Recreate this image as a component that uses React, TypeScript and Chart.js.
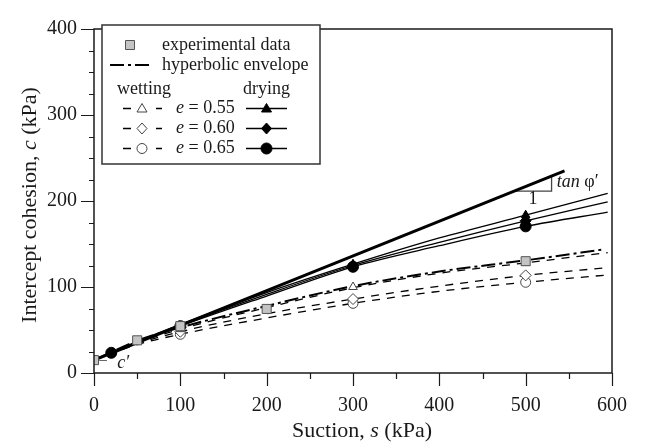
import { useEffect, useRef } from "react";
import { Chart, registerables } from "chart.js";

Chart.register(...registerables);

// ---- data ----
const curveS = [0, 50, 100, 200, 300, 400, 500, 595];
const dry055 = [15, 36.5, 56.5, 93.5, 126.5, 157, 183.5, 209];
const dry060 = [15, 36, 55.5, 91.5, 125, 152, 177, 199];
const dry065 = [15, 35.5, 54.5, 89.5, 123.5, 148, 170.5, 187];
const wet055 = [15, 35, 51, 76, 99, 116, 128, 140];
const wet060 = [15, 34, 48, 69, 86, 101, 113.5, 122.5];
const wet065 = [15, 33, 45, 64, 81, 95, 105.5, 114];

const envS = [0, 50, 100, 200, 300, 400, 500, 592];
const envC = [15, 37.5, 53, 78, 101, 118, 131, 144];

const tanS = [0, 545];
const tanC = [15, 235];
const slopeS = [486.7, 530, 530];
const slopeC = [211.5, 211.5, 229];

const expS = [0, 50, 100, 200, 500];
const expC = [15, 38, 54.5, 74.5, 130];

const dryMarkS055 = [300, 500];
const dryMark055 = [126.5, 183.5];
const dryMarkS060 = [300, 500];
const dryMark060 = [125, 177];
const dryMarkS065 = [20, 100, 300, 500];
const dryMark065 = [23.5, 54.5, 123.5, 170.5];

const wetMarkS = [100, 300, 500];
const wetMark055 = [51, 100, 128];
const wetMark060 = [48, 86, 113.5];
const wetMark065 = [45, 81, 105.5];

const xTickValues = [0, 100, 200, 300, 400, 500, 600];
const yTickValues = [0, 100, 200, 300, 400];

const FONT = '"Liberation Serif", "Times New Roman", serif';
const INK = "#1a1a1a";

const pts = (xs: number[], ys: number[]) => xs.map((x, i) => ({ x, y: ys[i] }));

function drawRich(
  ctx: CanvasRenderingContext2D,
  parts: [string, boolean][],
  x: number,
  y: number,
  size: number,
  align: "left" | "center",
  rotate = 0
) {
  ctx.save();
  ctx.translate(x, y);
  if (rotate) ctx.rotate(rotate);
  const fonts = parts.map(([, it]) => `${it ? "italic " : ""}${size}px ${FONT}`);
  let total = 0;
  const widths = parts.map(([t], i) => {
    ctx.font = fonts[i];
    const w = ctx.measureText(t).width;
    total += w;
    return w;
  });
  let cx = align === "center" ? -total / 2 : 0;
  ctx.textBaseline = "middle";
  ctx.textAlign = "left";
  ctx.fillStyle = INK;
  parts.forEach(([t], i) => {
    ctx.font = fonts[i];
    ctx.fillText(t, cx, 0);
    cx += widths[i];
  });
  ctx.restore();
}

type Mk = "square" | "triangle" | "diamond" | "circle";
function marker(ctx: CanvasRenderingContext2D, kind: Mk, x: number, y: number, filled: boolean) {
  ctx.save();
  ctx.beginPath();
  if (kind === "square") {
    ctx.rect(x - 4.5, y - 4.5, 9, 9);
    ctx.fillStyle = "#c4c4c4";
    ctx.fill();
    ctx.strokeStyle = "#555";
    ctx.lineWidth = 1;
    ctx.stroke();
    ctx.restore();
    return;
  }
  if (kind === "triangle") {
    ctx.moveTo(x, y - 5);
    ctx.lineTo(x + 5, y + 3.5);
    ctx.lineTo(x - 5, y + 3.5);
    ctx.closePath();
  } else if (kind === "diamond") {
    ctx.moveTo(x, y - 5.5);
    ctx.lineTo(x + 5, y);
    ctx.lineTo(x, y + 5.5);
    ctx.lineTo(x - 5, y);
    ctx.closePath();
  } else {
    ctx.arc(x, y, filled ? 5.5 : 5, 0, Math.PI * 2);
  }
  ctx.fillStyle = filled ? "#000" : "#fff";
  ctx.fill();
  ctx.strokeStyle = filled ? "#000" : "#444";
  ctx.lineWidth = 1;
  ctx.stroke();
  ctx.restore();
}

const decorPlugin = {
  id: "decor",
  afterDraw(chart: any) {
    const ctx: CanvasRenderingContext2D = chart.ctx;
    const { left, right, top, bottom } = chart.chartArea;
    const xs = chart.scales.x;
    const ys = chart.scales.y;
    ctx.save();
    // frame
    ctx.strokeStyle = INK;
    ctx.lineWidth = 1.5;
    ctx.strokeRect(left, top, right - left, bottom - top);
    // ticks
    ctx.lineWidth = 1.2;
    ctx.beginPath();
    for (let v = 0; v <= 600; v += 50) {
      const px = Math.round(xs.getPixelForValue(v)) + 0.5;
      const len = v % 100 === 0 ? 13 : 6;
      ctx.moveTo(px, bottom);
      ctx.lineTo(px, bottom + len);
    }
    for (let v = 0; v <= 400; v += 25) {
      const py = Math.round(ys.getPixelForValue(v)) + 0.5;
      const len = v % 100 === 0 ? 13 : 5;
      ctx.moveTo(left, py);
      ctx.lineTo(left - len, py);
    }
    ctx.stroke();

    // axis titles
    drawRich(ctx, [["Intercept cohesion, ", false], ["c", true], [" (kPa)", false]], 30, 205, 22, "center", -Math.PI / 2);
    drawRich(ctx, [["Suction, ", false], ["s", true], [" (kPa)", false]], 362, 431, 22, "center");

    // c' label with leader
    const cx0 = xs.getPixelForValue(6);
    const cx1 = xs.getPixelForValue(15);
    const cy = ys.getPixelForValue(14.5);
    ctx.strokeStyle = "#666";
    ctx.lineWidth = 1;
    ctx.beginPath();
    ctx.moveTo(cx0, cy);
    ctx.lineTo(cx1, cy);
    ctx.stroke();
    drawRich(ctx, [["c\u2032", true]], xs.getPixelForValue(27), ys.getPixelForValue(11.5), 18, "left");

    // slope labels
    drawRich(ctx, [["tan ", true], ["\u03c6\u2032", false]], xs.getPixelForValue(536), ys.getPixelForValue(221.5), 18, "left");
    drawRich(ctx, [["1", false]], xs.getPixelForValue(508.5), ys.getPixelForValue(201.5), 18, "center");

    // legend
    const L = 102, T = 25, R = 320, B = 164;
    ctx.fillStyle = "#fff";
    ctx.fillRect(L, T, R - L, B - T);
    ctx.strokeStyle = "#333";
    ctx.lineWidth = 1.5;
    ctx.strokeRect(L, T, R - L, B - T);
    const fs = 18;
    marker(ctx, "square", 130, 45, false);
    drawRich(ctx, [["experimental data", false]], 162, 45, fs, "left");
    ctx.strokeStyle = "#000";
    ctx.lineWidth = 2;
    ctx.setLineDash([14, 4, 3, 4]);
    ctx.beginPath();
    ctx.moveTo(110, 65);
    ctx.lineTo(152, 65);
    ctx.stroke();
    ctx.setLineDash([]);
    drawRich(ctx, [["hyperbolic envelope", false]], 162, 65, fs, "left");
    drawRich(ctx, [["wetting", false]], 117, 89, fs, "left");
    drawRich(ctx, [["drying", false]], 243, 89, fs, "left");
    const rows: [number, Mk, string][] = [
      [108.5, "triangle", "0.55"],
      [128.5, "diamond", "0.60"],
      [148.5, "circle", "0.65"],
    ];
    for (const [ry, mk, lab] of rows) {
      ctx.strokeStyle = "#000";
      ctx.lineWidth = 1.3;
      ctx.beginPath();
      ctx.moveTo(123, ry);
      ctx.lineTo(131, ry);
      ctx.moveTo(156, ry);
      ctx.lineTo(162, ry);
      ctx.moveTo(246, ry);
      ctx.lineTo(287, ry);
      ctx.stroke();
      marker(ctx, mk, 142, ry, false);
      marker(ctx, mk, 266.5, ry, true);
      drawRich(ctx, [["e", true], [" = " + lab, false]], 176, ry, fs, "left");
    }
    ctx.restore();
  },
};

export default function App() {
  const ref = useRef<HTMLCanvasElement | null>(null);
  useEffect(() => {
    if (!ref.current) return;
    const lineDs = (data: any[], opts: any) => ({
      type: "line",
      data,
      pointRadius: 0,
      borderColor: "#000",
      backgroundColor: "#000",
      fill: false,
      cubicInterpolationMode: "monotone",
      order: 3,
      ...opts,
    });
    const markDs = (data: any[], style: string, filled: boolean, radius: number) => ({
      type: "scatter",
      data,
      showLine: false,
      pointStyle: style,
      pointRadius: radius,
      pointBorderWidth: 1,
      pointBackgroundColor: filled ? "#000" : "#fff",
      pointBorderColor: filled ? "#000" : "#444",
      order: 1,
    });
    const chart = new Chart(ref.current, {
      type: "scatter",
      data: {
        datasets: [
          lineDs(pts(curveS, wet065), { borderWidth: 1.3, borderDash: [8, 7] }),
          lineDs(pts(curveS, wet060), { borderWidth: 1.3, borderDash: [8, 7] }),
          lineDs(pts(curveS, wet055), { borderWidth: 1.3, borderDash: [8, 7] }),
          lineDs(pts(envS, envC), { borderWidth: 2, borderDash: [14, 4, 3, 4] }),
          lineDs(pts(curveS, dry065), { borderWidth: 1.3 }),
          lineDs(pts(curveS, dry060), { borderWidth: 1.3 }),
          lineDs(pts(curveS, dry055), { borderWidth: 1.3 }),
          lineDs(pts(tanS, tanC), { borderWidth: 3, cubicInterpolationMode: "default", tension: 0 }),
          lineDs(pts(slopeS, slopeC), { borderWidth: 1.3, borderColor: "#444", cubicInterpolationMode: "default", tension: 0 }),
          markDs(pts(wetMarkS, wetMark055), "triangle", false, 5),
          markDs(pts(wetMarkS, wetMark060), "rectRot", false, 5.5),
          markDs(pts(wetMarkS, wetMark065), "circle", false, 5),
          markDs(pts(dryMarkS055, dryMark055), "triangle", true, 5),
          markDs(pts(dryMarkS060, dryMark060), "rectRot", true, 5.5),
          markDs(pts(dryMarkS065, dryMark065), "circle", true, 5.5),
          {
            type: "scatter",
            data: pts(expS, expC),
            pointStyle: "rect",
            pointRadius: 6.4,
            pointBorderWidth: 1,
            pointBackgroundColor: "#c4c4c4",
            pointBorderColor: "#555",
            order: 0,
          },
        ] as any,
      },
      options: {
        animation: false,
        responsive: false,
        events: [],
        layout: { padding: { left: 0, top: 21, right: 25, bottom: 0 } },
        plugins: { legend: { display: false }, tooltip: { enabled: false } },
        scales: {
          x: {
            type: "linear",
            min: 0,
            max: 600,
            afterFit: (s: any) => {
              s.height = 71;
            },
            afterBuildTicks: (s: any) => {
              s.ticks = xTickValues.map((v) => ({ value: v }));
            },
            grid: { display: false, drawTicks: false },
            border: { display: false },
            ticks: { font: { family: FONT, size: 20 }, color: INK, padding: 21, maxRotation: 0 },
          },
          y: {
            type: "linear",
            min: 0,
            max: 400,
            afterFit: (s: any) => {
              s.width = 94;
            },
            afterBuildTicks: (s: any) => {
              s.ticks = yTickValues.map((v) => ({ value: v }));
            },
            grid: { display: false, drawTicks: false },
            border: { display: false },
            ticks: { font: { family: FONT, size: 20 }, color: INK, padding: 17 },
          },
        },
      },
      plugins: [decorPlugin],
    } as any);
    return () => chart.destroy();
  }, []);
  return (
    <div style={{ position: "fixed", left: 0, top: 0, width: 648, height: 444, background: "#fff" }}>
      <canvas ref={ref} width={648} height={444} style={{ display: "block" }} />
    </div>
  );
}
